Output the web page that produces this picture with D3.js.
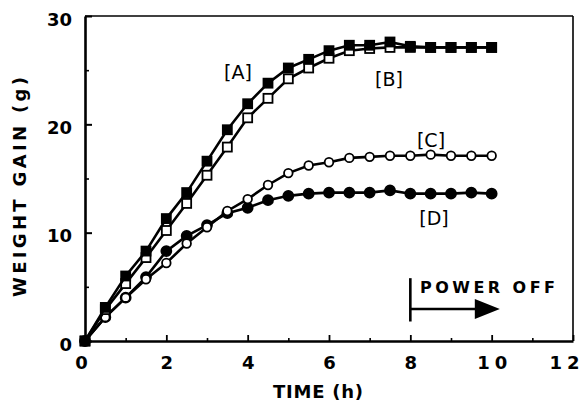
<!DOCTYPE html>
<html lang="en">
  <head>
    <meta charset="UTF-8" />
    <title>Weight gain vs time</title>
    <style>
      body {
        margin: 0;
        background: #fff;
      }
      svg text {
        font-family: 'DejaVu Sans', sans-serif;
        font-weight: bold;
        fill: #000;
      }
      .axis path,
      .axis line {
        stroke: #000;
      }
    </style>
  </head>
  <body>
    <div id="chart"></div>

    <script src="https://d3js.org/d3.v7.min.js"></script>
    <script>
      const hours = [0, 0.5, 1, 1.5, 2, 2.5, 3, 3.5, 4, 4.5, 5, 5.5, 6, 6.5, 7, 7.5, 8, 8.5, 9, 9.5, 10];
      const seriesA = [0, 3.1, 6.0, 8.3, 11.3, 13.7, 16.6, 19.5, 21.9, 23.8, 25.2, 26.0, 26.8, 27.3, 27.3, 27.6, 27.2, 27.1, 27.1, 27.1, 27.1];
      const seriesB = [0, 2.9, 5.3, 7.7, 10.2, 12.7, 15.3, 17.9, 20.6, 22.4, 24.2, 25.2, 26.1, 26.8, 27.0, 27.1, 27.1, 27.1, 27.1, 27.1, 27.1];
      const seriesC = [0, 2.2, 4.0, 5.7, 7.2, 9.0, 10.5, 12.0, 13.1, 14.4, 15.5, 16.2, 16.5, 16.9, 17.0, 17.1, 17.1, 17.2, 17.1, 17.1, 17.1];
      const seriesD = [0, 2.2, 4.0, 5.9, 8.3, 9.7, 10.7, 11.8, 12.3, 13.0, 13.4, 13.6, 13.7, 13.7, 13.7, 13.9, 13.6, 13.6, 13.6, 13.7, 13.6];
      const seriesNames = ['[A]', '[B]', '[C]', '[D]'];
      const xTicks = [0, 2, 4, 6, 8, 10, 12];
      const xMinorTicks = [1, 3, 5, 7, 9, 11];
      const yTicks = [0, 10, 20, 30];
      const yMinorTicks = [5, 15, 25];
      const powerOffAt = 8;
      const powerOffEnd = 10.2;

      const width = 587;
      const height = 407;
      const margin = { top: 16, right: 14, bottom: 66, left: 85 };
      const innerW = width - margin.left - margin.right;
      const innerH = height - margin.top - margin.bottom;

      const svg = d3
        .select('#chart')
        .append('svg')
        .attr('width', width)
        .attr('height', height);

      const g = svg
        .append('g')
        .attr('transform', `translate(${margin.left}, ${margin.top})`);

      const x = d3.scaleLinear().domain([0, 12]).range([0, innerW]);
      const y = d3.scaleLinear().domain([0, 30]).range([innerH, 0]);

      // frame (top and right, thinner)
      g.append('line')
        .attr('x1', 0).attr('x2', innerW)
        .attr('y1', 0).attr('y2', 0)
        .attr('stroke', '#000').attr('stroke-width', 1.6);
      g.append('line')
        .attr('x1', innerW).attr('x2', innerW)
        .attr('y1', 0).attr('y2', innerH)
        .attr('stroke', '#000').attr('stroke-width', 1.6);

      // axes, ticks pointing inward
      const yAxis = g
        .append('g')
        .attr('class', 'axis')
        .call(
          d3.axisLeft(y).tickValues(yTicks).tickSize(-7).tickSizeOuter(0).tickPadding(13)
        );
      yAxis.select('.domain').attr('stroke-width', 2.6);
      yAxis.selectAll('line').attr('stroke-width', 2);
      yAxis.selectAll('text').style('font-size', '18px').attr('dy', '0.5em');

      g.append('g')
        .attr('class', 'axis')
        .call(d3.axisLeft(y).tickValues(yMinorTicks).tickSize(-4).tickFormat(''))
        .call((s) => s.select('.domain').remove())
        .selectAll('line')
        .attr('stroke-width', 1.6);

      const xAxis = g
        .append('g')
        .attr('class', 'axis')
        .attr('transform', `translate(0, ${innerH})`)
        .call(
          d3.axisBottom(x).tickValues(xTicks).tickSize(-6).tickSizeOuter(0).tickPadding(15)
        );
      xAxis.select('.domain').attr('stroke-width', 2.4);
      xAxis.selectAll('line').attr('stroke-width', 1.8);
      xAxis
        .selectAll('text')
        .style('font-size', '18px')
        .attr('x', (d) => (d === 12 ? -9 : d === 0 ? -4 : 0))
        .attr('textLength', (d) => (d >= 10 ? 30 : null))
        .attr('lengthAdjust', 'spacing');
      xAxis.selectAll('.tick').filter((d) => d === 0).select('line').remove();

      g.append('g')
        .attr('class', 'axis')
        .attr('transform', `translate(0, ${innerH})`)
        .call(d3.axisBottom(x).tickValues(xMinorTicks).tickSize(-3).tickFormat(''))
        .call((s) => s.select('.domain').remove())
        .selectAll('line')
        .attr('stroke-width', 1.6);

      // axis titles
      svg
        .append('text')
        .attr('x', 318)
        .attr('y', 398)
        .attr('text-anchor', 'middle')
        .attr('textLength', 90)
        .attr('lengthAdjust', 'spacing')
        .style('font-size', '18px')
        .text('TIME (h)');

      svg
        .append('text')
        .attr('transform', 'translate(26, 187) rotate(-90)')
        .attr('text-anchor', 'middle')
        .attr('textLength', 220)
        .attr('lengthAdjust', 'spacing')
        .style('font-size', '18px')
        .text('WEIGHT GAIN (g)');

      // series
      const line = d3
        .line()
        .x((d) => x(d[0]))
        .y((d) => y(d[1]));

      const series = [
        { name: seriesNames[3], values: seriesD, shape: 'circle', filled: true },
        { name: seriesNames[2], values: seriesC, shape: 'circle', filled: false },
        { name: seriesNames[1], values: seriesB, shape: 'square', filled: false },
        { name: seriesNames[0], values: seriesA, shape: 'square', filled: true },
      ];

      series.forEach((s) => {
        const pts = hours.map((h, i) => [h, s.values[i]]);
        g.append('path')
          .datum(pts)
          .attr('d', line)
          .attr('fill', 'none')
          .attr('stroke', '#000')
          .attr('stroke-width', 2.6);

        const marks = g.append('g');
        if (s.shape === 'circle') {
          marks
            .selectAll('circle')
            .data(pts)
            .enter()
            .append('circle')
            .attr('cx', (d) => x(d[0]))
            .attr('cy', (d) => y(d[1]))
            .attr('r', s.filled ? 5 : 4.3)
            .attr('fill', s.filled ? '#000' : '#fff')
            .attr('stroke', '#000')
            .attr('stroke-width', 1.8);
        } else {
          const sz = 9;
          marks
            .selectAll('rect')
            .data(pts)
            .enter()
            .append('rect')
            .attr('x', (d) => x(d[0]) - sz / 2)
            .attr('y', (d) => y(d[1]) - sz / 2)
            .attr('width', sz)
            .attr('height', sz)
            .attr('fill', s.filled ? '#000' : '#fff')
            .attr('stroke', '#000')
            .attr('stroke-width', 1.8);
        }
      });

      // series labels
      const labels = [
        { t: seriesNames[0], px: 238, py: 79 },
        { t: seriesNames[1], px: 389, py: 86 },
        { t: seriesNames[2], px: 431, py: 147 },
        { t: seriesNames[3], px: 434, py: 225 },
      ];
      svg
        .selectAll('.series-label')
        .data(labels)
        .enter()
        .append('text')
        .attr('class', 'series-label')
        .attr('x', (d) => d.px)
        .attr('y', (d) => d.py)
        .attr('text-anchor', 'middle')
        .style('font-size', '19px')
        .style('font-weight', 'normal')
        .text((d) => d.t);

      // power off marker
      g.append('line')
        .attr('x1', x(powerOffAt)).attr('x2', x(powerOffAt))
        .attr('y1', y(5.8)).attr('y2', y(1.8))
        .attr('stroke', '#000').attr('stroke-width', 2.6);
      g.append('line')
        .attr('x1', x(powerOffAt)).attr('x2', x(powerOffEnd) - 20)
        .attr('y1', y(2.95)).attr('y2', y(2.95))
        .attr('stroke', '#000').attr('stroke-width', 2.6);
      const tipX = x(powerOffEnd);
      const tipY = y(2.95);
      g.append('path')
        .attr('d', `M${tipX},${tipY} L${tipX - 25},${tipY - 10} L${tipX - 25},${tipY + 10} Z`)
        .attr('fill', '#000');

      svg
        .append('text')
        .attr('x', 420)
        .attr('y', 293)
        .attr('textLength', 135)
        .attr('lengthAdjust', 'spacing')
        .style('font-size', '16px')
        .text('POWER OFF');
    </script>
  </body>
</html>
